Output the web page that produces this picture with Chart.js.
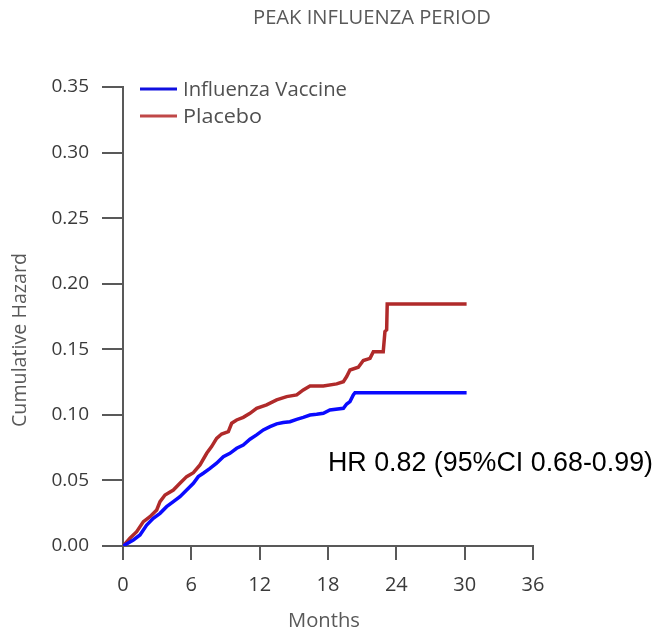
<!DOCTYPE html>
<html>
<head>
<meta charset="utf-8">
<script src="https://cdn.jsdelivr.net/npm/chart.js@4.4.1/dist/chart.umd.min.js"></script>
<style>
    html, body {
        margin: 0;
        padding: 0;
        background: #ffffff;
    }
    #chart-box {
        width: 667px;
        height: 631px;
    }
</style>
</head>
<body>
<div id="chart-box"><canvas id="hazard-chart"></canvas></div>
<script>
// values (months, cumulative hazard)
const vaccineMonths = [0, 0.91, 1.49, 2.08, 2.66, 3.25, 3.83, 4.42, 5.0, 5.59, 6.18, 6.61, 7.05, 7.64, 8.22, 8.81,
    9.39, 9.98, 10.56, 11.15, 11.73, 12.32, 12.91, 13.49, 14.07, 14.66, 15.25, 15.83, 16.42, 17.0, 17.59,
    18.17, 19.35, 19.64, 19.93, 20.22, 20.37, 30.17];
const vaccineHazard = [0, 0.0046, 0.0084, 0.016, 0.0211, 0.0249, 0.030, 0.0338, 0.0376, 0.0427, 0.0478, 0.0529,
    0.0555, 0.0592, 0.0631, 0.0681, 0.0707, 0.0745, 0.077, 0.0814, 0.0847, 0.0885, 0.091, 0.0931, 0.0941,
    0.0948, 0.0966, 0.0981, 0.0999, 0.1004, 0.1012, 0.1037, 0.105, 0.1083, 0.1101, 0.1152, 0.1169, 0.1169];

const placeboMonths = [0, 0.61, 1.2, 1.79, 2.37, 2.96, 3.25, 3.69, 4.42, 5.0, 5.59, 6.18, 6.76, 7.35, 7.78, 8.22,
    8.66, 9.25, 9.54, 9.98, 10.56, 11.15, 11.73, 12.61, 13.49, 14.37, 15.25, 15.83, 16.42, 17.59, 18.76,
    19.35, 19.64, 19.93, 20.66, 21.1, 21.69, 21.98, 22.85, 23.0, 23.15, 23.2, 30.17];
const placeboHazard = [0, 0.0059, 0.0109, 0.0186, 0.0224, 0.0275, 0.0338, 0.0389, 0.0427, 0.0478, 0.0529, 0.0559,
    0.0618, 0.0707, 0.0758, 0.0821, 0.0854, 0.0872, 0.0936, 0.0961, 0.0981, 0.1012, 0.105, 0.1076, 0.1114,
    0.1139, 0.1152, 0.119, 0.122, 0.122, 0.1236, 0.1253, 0.1292, 0.1342, 0.1363, 0.1414, 0.1431, 0.1482,
    0.1482, 0.1635, 0.1648, 0.1846, 0.1846];

const seriesNames = ['Influenza Vaccine', 'Placebo'];
const chartTitle = 'PEAK INFLUENZA PERIOD';
const xAxisTitle = 'Months';
const yAxisTitle = 'Cumulative Hazard';
const hrNote = 'HR 0.82 (95%CI 0.68-0.99)';

const axisGrey = '#595959';

function toPoints(xs, ys) {
    return xs.map((x, i) => ({x: x, y: ys[i]}));
}

// draws text squeezed/stretched to a given width
function fitText(ctx, text, x, y, font, width, align) {
    ctx.save();
    ctx.font = font;
    const measured = ctx.measureText(text).width;
    ctx.translate(x, y);
    ctx.scale(width / measured, 1);
    ctx.textAlign = align;
    ctx.fillText(text, 0, 0);
    ctx.restore();
}

// titles, legend and the HR note are drawn by hand
const extrasPlugin = {
    id: 'extras',
    afterDraw(chart) {
        const ctx = chart.ctx;
        ctx.save();
        ctx.textBaseline = 'alphabetic';

        ctx.fillStyle = axisGrey;
        fitText(ctx, chartTitle, 253, 24, '20px "Open Sans"', 238, 'left');
        fitText(ctx, xAxisTitle, 324, 627, '20px "Open Sans"', 72, 'center');

        ctx.save();
        ctx.translate(26, 340);
        ctx.rotate(-Math.PI / 2);
        fitText(ctx, yAxisTitle, 0, 0, '20px "Open Sans"', 174, 'center');
        ctx.restore();

        // legend
        const rows = [96, 123];
        chart.data.datasets.forEach((ds, i) => {
            const lineY = rows[i] - 7;
            ctx.strokeStyle = ds.legendColor;
            ctx.lineWidth = 3;
            ctx.beginPath();
            ctx.moveTo(140, lineY);
            ctx.lineTo(177, lineY);
            ctx.stroke();
        });
        ctx.fillStyle = '#505050';
        fitText(ctx, chart.data.datasets[0].label, 183, rows[0], '20px "Open Sans"', 164, 'left');
        fitText(ctx, chart.data.datasets[1].label, 183, rows[1], '20px "Open Sans"', 79, 'left');

        ctx.fillStyle = '#000000';
        fitText(ctx, hrNote, 328, 471, '27px "Liberation Sans"', 325, 'left');
        ctx.restore();
    }
};

new Chart(document.querySelector('#hazard-chart'), {
    type: 'line',
    data: {
        datasets: [
            {
                label: seriesNames[0],
                data: toPoints(vaccineMonths, vaccineHazard),
                borderColor: '#0a0aff',
                legendColor: '#1010e0',
                borderWidth: 3.5,
                tension: 0,
                pointRadius: 0,
                fill: false,
            },
            {
                label: seriesNames[1],
                data: toPoints(placeboMonths, placeboHazard),
                borderColor: '#b02a2a',
                legendColor: '#c04848',
                borderWidth: 3.5,
                tension: 0,
                pointRadius: 0,
                fill: false,
            }
        ]
    },
    options: {
        responsive: true,
        maintainAspectRatio: false,
        animation: false,
        layout: {
            padding: {top: 87, right: 134, bottom: 0, left: 0}
        },
        plugins: {
            legend: {display: false},
            title: {display: false},
            tooltip: {enabled: false}
        },
        scales: {
            x: {
                type: 'linear',
                min: 0,
                max: 36,
                afterFit: (scale) => { scale.height = 85; },
                ticks: {
                    stepSize: 6,
                    padding: 13,
                    color: '#3a3a3a',
                    font: {family: 'Open Sans', size: 20},
                    maxRotation: 0
                },
                grid: {
                    display: true,
                    drawOnChartArea: false,
                    drawTicks: true,
                    tickLength: 14,
                    color: axisGrey,
                    lineWidth: 2
                },
                border: {display: true, color: axisGrey, width: 2}
            },
            y: {
                min: 0,
                max: 0.35,
                afterFit: (scale) => { scale.width = 123; },
                ticks: {
                    stepSize: 0.05,
                    padding: 13,
                    color: '#3a3a3a',
                    font: {family: 'Open Sans', size: 19},
                    callback: (v) => v.toFixed(2)
                },
                grid: {
                    display: true,
                    drawOnChartArea: false,
                    drawTicks: true,
                    tickLength: 21,
                    color: axisGrey,
                    lineWidth: 2
                },
                border: {display: true, color: axisGrey, width: 2}
            }
        }
    },
    plugins: [extrasPlugin]
});
</script>
</body>
</html>
